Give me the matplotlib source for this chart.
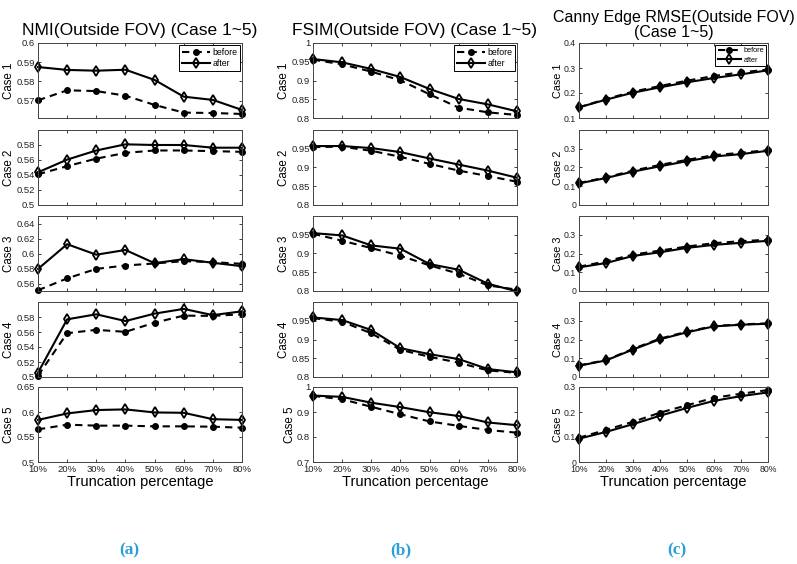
import matplotlib
matplotlib.use('Agg')
import matplotlib.pyplot as plt

plt.rcParams['font.family'] = ['Liberation Sans', 'DejaVu Sans']

truncation = [10, 20, 30, 40, 50, 60, 70, 80]
truncation_labels = ['10%', '20%', '30%', '40%', '50%', '60%', '70%', '80%']
case_names = ['Case 1', 'Case 2', 'Case 3', 'Case 4', 'Case 5']

# NMI, cases 1..5
nmi_before = [
    [0.5702, 0.5754, 0.5750, 0.5726, 0.5678, 0.5638, 0.5636, 0.5631],
    [0.5409, 0.5518, 0.5618, 0.5695, 0.5727, 0.5727, 0.5718, 0.5709],
    [0.5510, 0.5668, 0.5795, 0.5840, 0.5867, 0.5898, 0.5885, 0.5862],
    [0.5018, 0.5584, 0.5629, 0.5602, 0.5724, 0.5818, 0.5815, 0.5836],
    [0.5652, 0.5747, 0.5727, 0.5727, 0.5713, 0.5713, 0.5706, 0.5686],
]
nmi_after = [
    [0.5875, 0.5860, 0.5856, 0.5861, 0.5808, 0.5721, 0.5704, 0.5652],
    [0.5436, 0.5605, 0.5727, 0.5809, 0.5800, 0.5800, 0.5764, 0.5764],
    [0.5794, 0.6124, 0.5984, 0.6047, 0.5871, 0.5925, 0.5876, 0.5831],
    [0.5058, 0.5769, 0.5836, 0.5746, 0.5845, 0.5908, 0.5825, 0.5876],
    [0.5842, 0.5971, 0.6039, 0.6052, 0.5991, 0.5984, 0.5856, 0.5842],
]

# FSIM, cases 1..5
fsim_before = [
    [0.9556, 0.9431, 0.9236, 0.9004, 0.8631, 0.8276, 0.8151, 0.8080],
    [0.9545, 0.9554, 0.9446, 0.9285, 0.9096, 0.8917, 0.8773, 0.8620],
    [0.9527, 0.9340, 0.9145, 0.8940, 0.8683, 0.8461, 0.8150, 0.8035],
    [0.9571, 0.9474, 0.9165, 0.8724, 0.8539, 0.8380, 0.8177, 0.8110],
    [0.9645, 0.9509, 0.9209, 0.8909, 0.8622, 0.8445, 0.8281, 0.8172],
]
fsim_after = [
    [0.9573, 0.9484, 0.9307, 0.9093, 0.8773, 0.8507, 0.8364, 0.8178],
    [0.9572, 0.9572, 0.9518, 0.9410, 0.9240, 0.9078, 0.8917, 0.8728],
    [0.9544, 0.9482, 0.9216, 0.9127, 0.8718, 0.8567, 0.8194, 0.7990],
    [0.9588, 0.9518, 0.9253, 0.8768, 0.8609, 0.8477, 0.8213, 0.8124],
    [0.9659, 0.9604, 0.9372, 0.9195, 0.8990, 0.8840, 0.8581, 0.8472],
]

# Canny edge RMSE, cases 1..5
canny_before = [
    [0.1427, 0.1760, 0.2053, 0.2280, 0.2493, 0.2680, 0.2827, 0.2933],
    [0.1169, 0.1474, 0.1833, 0.2138, 0.2408, 0.2659, 0.2785, 0.2928],
    [0.1294, 0.1582, 0.1940, 0.2156, 0.2372, 0.2551, 0.2659, 0.2731],
    [0.0618, 0.0902, 0.1502, 0.2048, 0.2418, 0.2718, 0.2806, 0.2859],
    [0.0973, 0.1284, 0.1608, 0.1973, 0.2270, 0.2568, 0.2730, 0.2878],
]
canny_after = [
    [0.1427, 0.1733, 0.2013, 0.2227, 0.2427, 0.2600, 0.2747, 0.2907],
    [0.1150, 0.1440, 0.1780, 0.2066, 0.2336, 0.2587, 0.2713, 0.2892],
    [0.1260, 0.1492, 0.1869, 0.2066, 0.2300, 0.2461, 0.2569, 0.2677],
    [0.0600, 0.0884, 0.1466, 0.2012, 0.2383, 0.2700, 0.2788, 0.2841],
    [0.0932, 0.1203, 0.1514, 0.1851, 0.2162, 0.2446, 0.2635, 0.2784],
]

nmi_ylims = [(0.561, 0.6), (0.5, 0.6), (0.55, 0.65), (0.5, 0.6), (0.5, 0.65)]
nmi_yticks = [[0.57, 0.58, 0.59, 0.6], [0.5, 0.52, 0.54, 0.56, 0.58],
              [0.56, 0.58, 0.6, 0.62, 0.64], [0.5, 0.52, 0.54, 0.56, 0.58],
              [0.5, 0.55, 0.6, 0.65]]
fsim_ylims = [(0.8, 1.0), (0.8, 1.0), (0.8, 1.0), (0.8, 1.0), (0.7, 1.0)]
fsim_yticks = [[0.8, 0.85, 0.9, 0.95, 1], [0.8, 0.85, 0.9, 0.95],
               [0.8, 0.85, 0.9, 0.95], [0.8, 0.85, 0.9, 0.95],
               [0.7, 0.8, 0.9, 1]]
canny_ylims = [(0.1, 0.4), (0, 0.4), (0, 0.4), (0, 0.4), (0, 0.3)]
canny_yticks = [[0.1, 0.2, 0.3, 0.4], [0, 0.1, 0.2, 0.3], [0, 0.1, 0.2, 0.3],
                [0, 0.1, 0.2, 0.3], [0, 0.1, 0.2, 0.3]]


def fmt(v):
    s = ('%.2f' % v).rstrip('0').rstrip('.')
    return s


W, H = 797, 564
fig = plt.figure(figsize=(W / 100, H / 100), dpi=100)

row_tops = [43, 130, 216, 302, 387]
row_h = 75

columns = [
    dict(left=38, width=204, before=nmi_before, after=nmi_after,
         ylims=nmi_ylims, yticks=nmi_yticks,
         title='NMI(Outside FOV) (Case 1~5)', tsize=12.5, fs=6.8, lfs=6.3,
         tpad=6, tag='(a)', tagx=129),
    dict(left=313, width=204, before=fsim_before, after=fsim_after,
         ylims=fsim_ylims, yticks=fsim_yticks,
         title='FSIM(Outside FOV) (Case 1~5)', tsize=12.5, fs=6.8, lfs=6.3,
         tpad=6, tag='(b)', tagx=401),
    dict(left=579, width=189, before=canny_before, after=canny_after,
         ylims=canny_ylims, yticks=canny_yticks,
         title='Canny Edge RMSE(Outside FOV)\n(Case 1~5)', tsize=11.5, fs=6.3,
         lfs=5.3, tpad=4, tag='(c)', tagx=677),
]

for col in columns:
    for i in range(5):
        rect = [col['left'] / W, 1 - (row_tops[i] + row_h) / H,
                col['width'] / W, row_h / H]
        ax = fig.add_axes(rect)
        lb, = ax.plot(truncation, col['before'][i], '--', color='black', lw=1.5,
                      marker='o', ms=4, mfc='black', clip_on=False,
                      label='before', dashes=(3.5, 2.5))
        la, = ax.plot(truncation, col['after'][i], '-', color='black', lw=1.5,
                      marker='d', ms=5.5, mfc='none', mew=1.3, clip_on=False,
                      label='after')
        ax.set_xlim(10, 80)
        ax.set_ylim(*col['ylims'][i])
        ax.set_xticks(truncation)
        ax.set_yticks(col['yticks'][i])
        ax.set_yticklabels([fmt(v) for v in col['yticks'][i]])
        if i == 4:
            ax.set_xticklabels(truncation_labels, fontsize=6.8)
            ax.set_xlabel('Truncation percentage', fontsize=10.5, labelpad=1)
        else:
            ax.set_xticklabels([])
        ax.tick_params(direction='in', top=True, right=True, length=2.5,
                       width=0.6, labelsize=col['fs'], pad=2, colors='#222222')
        for sp in ax.spines.values():
            sp.set_linewidth(0.7)
            sp.set_color('#444444')
        ax.set_ylabel(case_names[i], fontsize=col['fs'] + 1.5, labelpad=1)
        if i == 0:
            ax.set_title(col['title'], fontsize=col['tsize'], pad=col['tpad'],
                         linespacing=1.0)
            leg = ax.legend(handles=[lb, la], loc='upper right',
                            fontsize=col['lfs'], handlelength=3.2,
                            borderaxespad=0.25, borderpad=0.3,
                            labelspacing=0.3, handletextpad=0.3,
                            fancybox=False, framealpha=1)
            leg.get_frame().set_edgecolor('black')
            leg.get_frame().set_linewidth(0.7)
    fig.text(col['tagx'] / W, 1 - 550 / H, col['tag'], ha='center',
             va='center', fontsize=12.5, fontweight='bold', color='#2a9fd8',
             family=['Liberation Serif', 'DejaVu Serif'])

fig.savefig('out.png', dpi=100)
